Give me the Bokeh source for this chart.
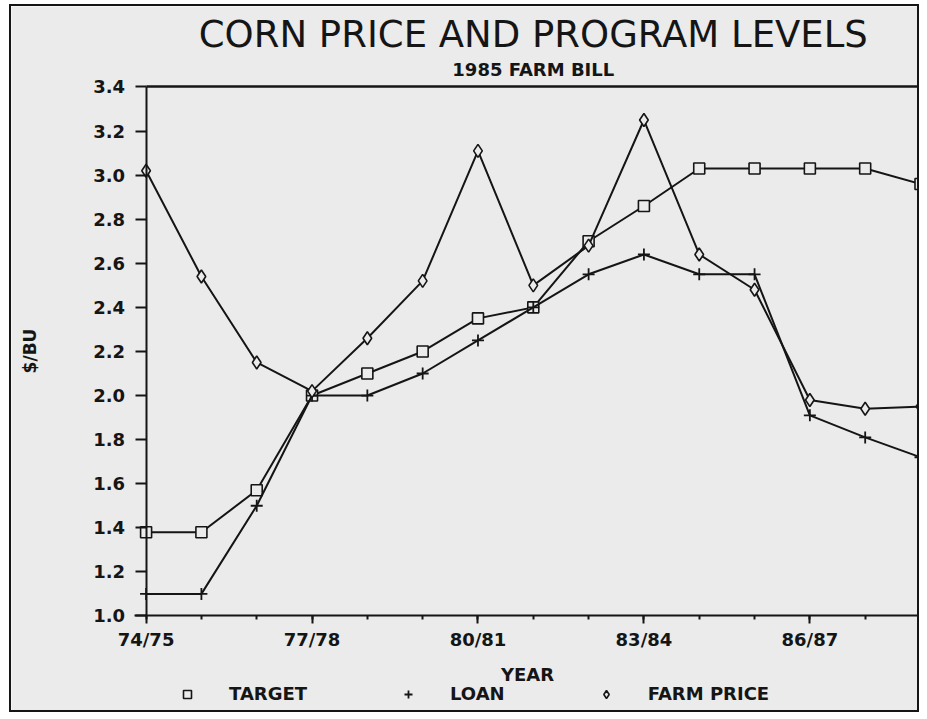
from bokeh.plotting import figure
from bokeh.models import (Range1d, FixedTicker, PrintfTickFormatter, Legend, LegendItem,
                          Label, Span, LinearAxis, ColumnDataSource)
from bokeh.embed import file_html
from bokeh.resources import INLINE

# ---- data ----
years = ["74/75", "75/76", "76/77", "77/78", "78/79", "79/80", "80/81", "81/82",
         "82/83", "83/84", "84/85", "85/86", "86/87", "87/88", "88/89"]
labeled_years = ["74/75", "77/78", "80/81", "83/84", "86/87"]
target = [1.38, 1.38, 1.57, 2.00, 2.10, 2.20, 2.35, 2.40, 2.70, 2.86, 3.03, 3.03, 3.03, 3.03, 2.96]
loan = [1.10, 1.10, 1.50, 2.00, 2.00, 2.10, 2.25, 2.40, 2.55, 2.64, 2.55, 2.55, 1.91, 1.81, 1.72]
farm_price = [3.02, 2.54, 2.15, 2.02, 2.26, 2.52, 3.11, 2.50, 2.68, 3.25, 2.64, 2.48, 1.98, 1.94, 1.95]
yticks = [1.0, 1.2, 1.4, 1.6, 1.8, 2.0, 2.2, 2.4, 2.6, 2.8, 3.0, 3.2, 3.4]

title_text = "CORN PRICE AND PROGRAM LEVELS"
subtitle_text = "1985 FARM BILL"

xs = list(range(len(years)))
src = ColumnDataSource(dict(x=xs, target=target, loan=loan, farm=farm_price))

BG = "#ebebeb"
INK = "#151515"
FONT = "DejaVu Sans"

# ---- layout (pixels): the canvas (906 x 704, inside a 2px border) is all frame ----
X0 = xs[0]
X1 = xs[-1]
PX_PER_YEAR = (916 - 145) / (X1 - X0)
PX_PER_UNIT = (612 - 86) / (yticks[-1] - yticks[0])
x_lo = X0 - 134 / PX_PER_YEAR
x_hi = X1 + 1 / PX_PER_YEAR
y_lo = yticks[0] - 98 / PX_PER_UNIT
y_hi = yticks[-1] + 80 / PX_PER_UNIT

p = figure(width=910, height=708, output_backend="svg", toolbar_location=None,
           title_location=None,
           x_range=Range1d(x_lo, x_hi), y_range=Range1d(y_lo, y_hi),
           min_border_left=0, min_border_right=0, min_border_top=0, min_border_bottom=0)
p.styles = {"border": "2px solid #151515", "margin-left": "9px", "margin-top": "4px"}
p.background_fill_color = BG
p.border_fill_color = BG
p.outline_line_color = None
p.xgrid.visible = False
p.ygrid.visible = False

# x axis drawn at y = 1.0
xa = p.xaxis[0]
xa.fixed_location = yticks[0]
xa.bounds = (X0 - 12 / PX_PER_YEAR, X1)
major_idx = [years.index(y) for y in labeled_years]
xa.ticker = FixedTicker(ticks=major_idx, minor_ticks=xs)
xa.major_label_overrides = {i: years[i] for i in major_idx}
xa.axis_line_color = INK
xa.axis_line_width = 2
xa.major_tick_line_color = INK
xa.major_tick_line_width = 2
xa.major_tick_in = 0
xa.major_tick_out = 8
xa.minor_tick_line_color = INK
xa.minor_tick_line_width = 2
xa.minor_tick_in = 0
xa.minor_tick_out = 4
xa.major_label_text_font = FONT
xa.major_label_text_font_style = "bold"
xa.major_label_text_font_size = "18px"
xa.major_label_text_color = INK
xa.major_label_standoff = 5
xa.axis_label = "YEAR"
xa.axis_label_text_font = FONT
xa.axis_label_text_font_style = "bold"
xa.axis_label_text_font_size = "18px"
xa.axis_label_text_color = INK
xa.axis_label_standoff = 11

# y axis drawn at the first year
ya = p.yaxis[0]
ya.fixed_location = X0
ya.bounds = (yticks[0], yticks[-1])
ya.ticker = FixedTicker(ticks=yticks, minor_ticks=[])
ya.formatter = PrintfTickFormatter(format="%.1f")
ya.axis_line_color = INK
ya.axis_line_width = 2
ya.major_tick_line_color = INK
ya.major_tick_line_width = 2
ya.major_tick_in = 0
ya.major_tick_out = 11
ya.minor_tick_line_color = None
ya.major_label_text_font = FONT
ya.major_label_text_font_style = "bold"
ya.major_label_text_font_size = "18px"
ya.major_label_text_color = INK
ya.major_label_standoff = 10
ya.axis_label = "$/BU"
ya.axis_label_text_font = FONT
ya.axis_label_text_font_style = "bold"
ya.axis_label_text_font_size = "17px"
ya.axis_label_text_color = INK
ya.axis_label_standoff = 51

# plot box: top line (an unlabeled axis at 3.4) and the right line
top_line = LinearAxis(fixed_location=yticks[-1], bounds=(X0, X1),
                      axis_line_color=INK, axis_line_width=2.5,
                      major_tick_line_color=None, minor_tick_line_color=None,
                      major_label_text_alpha=0, major_label_text_font_size="1px")
p.add_layout(top_line, "above")
p.add_layout(Span(location=X1, dimension="height", line_color=INK, line_width=2.5))

# series
p.line("x", "target", source=src, line_color=INK, line_width=2)
r_t = p.scatter("x", "target", source=src, marker="square", size=11,
                line_color=INK, line_width=1.6, fill_color=BG)
p.line("x", "loan", source=src, line_color=INK, line_width=2)
r_l = p.scatter("x", "loan", source=src, marker="cross", size=12,
                line_color=INK, line_width=1.8)
p.line("x", "farm", source=src, line_color=INK, line_width=2)
r_f = p.scatter("x", "farm", source=src, marker="diamond", size=13,
                line_color=INK, line_width=1.6, fill_color=BG)

legend = Legend(items=[LegendItem(label="TARGET", renderers=[r_t]),
                       LegendItem(label="LOAN", renderers=[r_l]),
                       LegendItem(label="FARM PRICE", renderers=[r_f])],
                location=(166, 10), orientation="horizontal",
                label_text_font=FONT, label_text_font_style="bold",
                label_text_font_size="18px", label_text_color=INK,
                background_fill_alpha=0, border_line_alpha=0,
                padding=0, margin=0, spacing=91, label_standoff=32,
                glyph_width=20, glyph_height=20)
p.add_layout(legend, "center")

# titles, floated above the top line
mid_x = (X0 + X1) / 2
p.add_layout(Label(x=mid_x, y=yticks[-1], y_offset=52, text=title_text,
                   text_align="center", text_baseline="middle",
                   text_font=FONT, text_font_size="37px", text_color=INK))
p.add_layout(Label(x=mid_x, y=yticks[-1], y_offset=17, text=subtitle_text,
                   text_align="center", text_baseline="middle",
                   text_font=FONT, text_font_style="bold", text_font_size="18px",
                   text_color=INK))

open("out.html", "w").write(file_html(p, INLINE))
